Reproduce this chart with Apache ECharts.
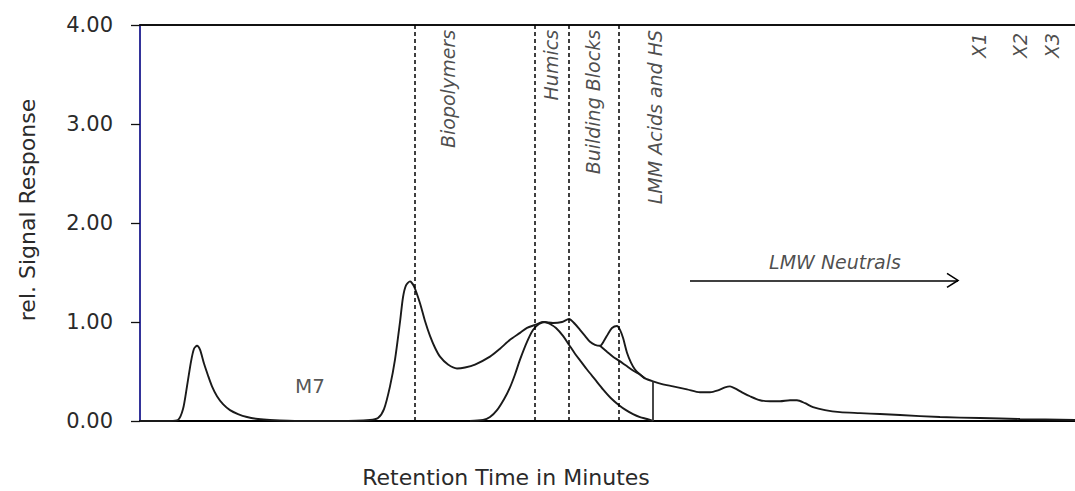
<!DOCTYPE html>
<html>
<head>
<meta charset="utf-8">
<script src="https://cdn.jsdelivr.net/npm/echarts@6/dist/echarts.min.js"></script>
<style>
html,body{margin:0;padding:0;background:#fff;}
#chart{width:1075px;height:491px;}
</style>
</head>
<body>
<div id="chart"></div>
<script>
// ---- data (retention time in arbitrary minute units, relative signal) ----
const timeMain = [0,3.0,3.8,4.3,4.7,5.1,5.4,5.7,6.0,6.4,6.8,7.2,7.7,8.3,9.0,9.8,10.7,11.8,13.0,16.0,20.0,23.0,23.8,24.4,25.0,25.5,26.0,26.3,26.6,27.0,27.4,28.0,28.5,29.0,29.5,30.0,30.8,31.7,32.5,33.5,35.0,36.0,37.0,38.0,38.7,39.5,40.3,41.3,42.2,42.9,43.5,44.0,44.5,45.0,45.5,46.0,46.4,46.8,47.2,47.7,48.0,48.3,48.7,49.1,49.5,50.0,50.5,51.3,52.3,53.3,54.7,56.0,57.0,57.8,58.5,59.0,59.5,60.2,61.0,62.0,63.0,64.0,65.0,65.7,66.5,67.3,68.5,70.0,72.0,74.0,76.0,80.0,84.0,88.0,93.5];
const signalMain = [0,0,0.01,0.12,0.35,0.60,0.73,0.76,0.72,0.58,0.46,0.35,0.25,0.17,0.11,0.07,0.04,0.02,0.01,0.0,0.0,0.01,0.03,0.12,0.35,0.62,1.00,1.25,1.37,1.41,1.36,1.19,1.01,0.86,0.74,0.65,0.57,0.53,0.54,0.57,0.65,0.73,0.82,0.89,0.94,0.97,1.00,0.99,1.00,1.03,0.98,0.92,0.86,0.80,0.77,0.76,0.81,0.88,0.94,0.96,0.92,0.84,0.69,0.59,0.52,0.47,0.43,0.40,0.37,0.35,0.32,0.29,0.29,0.31,0.34,0.35,0.33,0.29,0.25,0.21,0.20,0.20,0.21,0.21,0.18,0.14,0.11,0.09,0.08,0.07,0.06,0.04,0.03,0.02,0.01];

const timeHumicFit = [33.0,34.3,35.0,35.7,36.4,37.0,37.5,38.0,38.7,39.3,39.9,40.5,41.0,41.6,42.3,42.9,43.5,44.1,44.7,45.5,46.3,47.1,47.9,48.6,49.3,50.0,50.7,51.3];
const signalHumicFit = [0,0.01,0.04,0.11,0.22,0.34,0.47,0.62,0.80,0.92,0.98,1.00,0.98,0.94,0.86,0.77,0.68,0.60,0.52,0.42,0.32,0.23,0.16,0.11,0.07,0.04,0.02,0.0];

const timeBaseLMM = [46.0,46.7,47.3,47.9,48.6,49.3,50.0,50.5];
const signalBaseLMM = [0.76,0.70,0.65,0.61,0.56,0.51,0.47,0.43];

const cutTime = [51.3, 51.3];
const cutSignal = [0, 0.40];

const fractionBounds = [27.5, 39.5, 42.9, 47.9];

const fractionNames = ['Biopolymers','Humics','Building Blocks','LMM Acids and HS','X1','X2','X3'];
const fractionLabelTime = [30.8, 41.1, 45.3, 51.5, 83.9, 88.0, 91.2];
const fractionLabelTop = [3.95, 3.95, 3.95, 3.95, 3.92, 3.92, 3.92];

const neutralsLabel = 'LMW Neutrals';
const neutralsLabelPos = [69.5, 1.61];
const neutralsArrow = [[55.0, 1.42], [81.8, 1.42]];

const sampleLabel = 'M7';
const sampleLabelPos = [17.0, 0.35];

const yTicks = [0, 1, 2, 3, 4];

// ---- build ----
const zip = (a, b) => a.map((v, i) => [v, b[i]]);
const FONT = '"DejaVu Sans", "Liberation Sans", sans-serif';
const INK = '#1a1a1a';
const lineStyle = { color: INK, width: 1.9 };

const chart = echarts.init(document.getElementById('chart'), null, { renderer: 'svg' });

const baseGraphic = [
  { type: 'text', x: 27, y: 210, rotation: Math.PI / 2,
    style: { text: 'rel. Signal Response', fill: '#2a2a2a', font: '22px ' + FONT, align: 'center', verticalAlign: 'middle' } },
  { type: 'text', x: 506, y: 477,
    style: { text: 'Retention Time in Minutes', fill: '#2a2a2a', font: '22px ' + FONT, align: 'center', verticalAlign: 'middle' } }
];

chart.setOption({
  animation: false,
  backgroundColor: '#fff',
  grid: { left: 140, right: 0, top: 25, bottom: 70, containLabel: false },
  xAxis: [
    { type: 'value', min: 0, max: 93.5, position: 'bottom',
      axisLine: { show: true, onZero: false, lineStyle: { color: '#000', width: 2 } },
      axisTick: { show: false }, axisLabel: { show: false }, splitLine: { show: false } },
    { type: 'value', min: 0, max: 93.5, position: 'top',
      axisLine: { show: true, onZero: false, lineStyle: { color: '#111', width: 2 } },
      axisTick: { show: false }, axisLabel: { show: false }, splitLine: { show: false } }
  ],
  yAxis: {
    type: 'value', min: yTicks[0], max: yTicks[yTicks.length - 1], interval: 1,
    axisLine: { show: true, lineStyle: { color: '#000080', width: 1.6 } },
    axisTick: { show: true, length: 9, lineStyle: { color: '#111', width: 1.3 } },
    axisLabel: { margin: 27, color: '#2a2a2a', fontFamily: FONT, fontSize: 21,
      formatter: v => v.toFixed(2) },
    splitLine: { show: false }
  },
  graphic: baseGraphic,
  series: [
    { type: 'line', name: 'signal', data: zip(timeMain, signalMain), showSymbol: false, smooth: 0.25,
      lineStyle: lineStyle, z: 3,
      markLine: { silent: true, symbol: ['none', 'none'], label: { show: false },
        lineStyle: { color: '#000', width: 1.5, type: [4, 3] },
        data: fractionBounds.map(v => ({ xAxis: v })) } },
    { type: 'line', name: 'humic fit', data: zip(timeHumicFit, signalHumicFit), showSymbol: false, smooth: 0.3,
      lineStyle: lineStyle, z: 3 },
    { type: 'line', name: 'LMM baseline', data: zip(timeBaseLMM, signalBaseLMM), showSymbol: false, smooth: 0.25,
      lineStyle: lineStyle, z: 3 },
    { type: 'line', name: 'cut', data: zip(cutTime, cutSignal), showSymbol: false,
      lineStyle: { color: '#333', width: 1.8 }, z: 3 },
    { type: 'scatter', name: 'fractions', symbolSize: 0, silent: true,
      data: fractionNames.map((n, i) => ({ name: n, value: [fractionLabelTime[i], fractionLabelTop[i]] })),
      label: { show: true, position: 'inside', rotate: 90, align: 'right', verticalAlign: 'middle',
        formatter: p => p.name, color: '#1e1e1e', fontFamily: FONT, fontStyle: 'italic', fontSize: 19 } },
    { type: 'scatter', name: 'neutrals', symbolSize: 0, silent: true,
      data: [{ name: neutralsLabel, value: neutralsLabelPos }],
      label: { show: true, position: 'inside', align: 'center', verticalAlign: 'middle',
        formatter: p => p.name, color: '#1e1e1e', fontFamily: FONT, fontStyle: 'italic', fontSize: 19 },
      markLine: { silent: true, symbol: ['none', 'none'], label: { show: false },
        lineStyle: { color: '#000', width: 1.6, type: 'solid' },
        data: [[{ coord: neutralsArrow[0] }, { coord: neutralsArrow[1] }]] } },
    { type: 'scatter', name: 'sample', symbolSize: 0, silent: true,
      data: [{ name: sampleLabel, value: sampleLabelPos }],
      label: { show: true, position: 'inside', align: 'center', verticalAlign: 'middle',
        formatter: p => p.name, color: '#2a2a2a', fontFamily: FONT, fontSize: 20 } }
  ]
});

// open arrowhead at the end of the LMW Neutrals arrow, placed through the axis scales
const tip = chart.convertToPixel({ xAxisIndex: 0, yAxisIndex: 0 }, neutralsArrow[1]);
chart.setOption({
  graphic: baseGraphic.concat([{
    type: 'polyline', silent: true,
    shape: { points: [[tip[0] - 11, tip[1] - 7], [tip[0], tip[1]], [tip[0] - 11, tip[1] + 7]] },
    style: { stroke: '#000', lineWidth: 1.6, fill: null }
  }])
});
</script>
</body>
</html>
